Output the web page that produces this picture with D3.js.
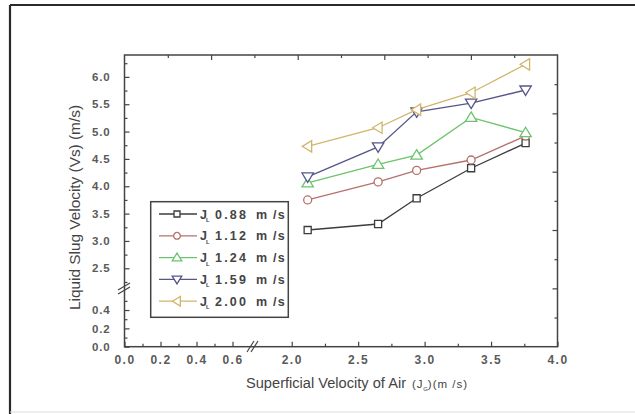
<!DOCTYPE html>
<html><head><meta charset="utf-8">
<script src="https://cdn.jsdelivr.net/npm/d3@7"></script>
<style>
html,body{margin:0;padding:0;background:#fff;}
svg{display:block;}
text{font-family:"Liberation Sans",Arial,sans-serif;}
</style></head>
<body>
<svg id="chart" width="635" height="414"></svg>
<script>
// ---- data ----
const jg = [2.12, 2.65, 2.94, 3.35, 3.76];
const jl088 = [3.20, 3.31, 3.78, 4.33, 4.79];
const jl112 = [3.75, 4.08, 4.29, 4.48, 4.92];
const jl124 = [4.06, 4.40, 4.57, 5.26, 4.98];
const jl159 = [4.17, 4.72, 5.36, 5.52, 5.76];
const jl200 = [4.73, 5.07, 5.40, 5.71, 6.23];
const seriesNames = ["0.88", "1.12", "1.24", "1.59", "2.00"];
const yTicksLow = [0.0, 0.2, 0.4];
const yTicksHigh = [2.5, 3.0, 3.5, 4.0, 4.5, 5.0, 5.5, 6.0];
const xTicksLow = [0.0, 0.2, 0.4, 0.6];
const xTicksHigh = [2.0, 2.5, 3.0, 3.5, 4.0];
const yMinorLow = [0.1, 0.3, 0.5];
const yMinorHigh = [2.25, 2.75, 3.25, 3.75, 4.25, 4.75, 5.25, 5.75, 6.25];
const xMinorLow = [0.1, 0.3, 0.5];
const xMinorHigh = [2.25, 2.75, 3.25, 3.75];

const series = [
  {name: seriesNames[0], values: jl088, color: "#3c3c3c", shape: "square"},
  {name: seriesNames[1], values: jl112, color: "#b5706c", shape: "circle"},
  {name: seriesNames[2], values: jl124, color: "#6cc46c", shape: "up"},
  {name: seriesNames[3], values: jl159, color: "#56568a", shape: "down"},
  {name: seriesNames[4], values: jl200, color: "#d2b56c", shape: "left"}
];

const svg = d3.select("#chart");
const L = 124.5, R = 557.5, T = 55, B = 346.7;

// outer frame
svg.append("line").attr("x1",10).attr("y1",5).attr("x2",640).attr("y2",5).attr("stroke","#2a2a2a").attr("stroke-width",2.2);
svg.append("line").attr("x1",10).attr("y1",5).attr("x2",10).attr("y2",414).attr("stroke","#2a2a2a").attr("stroke-width",2.2);
svg.append("line").attr("x1",10).attr("y1",412).attr("x2",640).attr("y2",412).attr("stroke","#ddd").attr("stroke-width",1);

// scales
const xLow = d3.scaleLinear().domain([0, 0.7]).range([L, 250.5]);
const xHigh = d3.scaleLinear().domain([1.75, 4.0]).range([258.5, R]);
const yLow = d3.scaleLinear().domain([0, 0.6]).range([B, 291.7]);
const yHigh = d3.scaleLinear().domain([2.2, 6.4]).range([284.7, T]);
const sec = d3.scaleLinear().domain([0, 10]);

const axisColor = "#444";
const labelColor = "#5a5a5a";

function styleAxis(g){
  g.select(".domain").remove();
  g.selectAll(".tick line").attr("stroke", axisColor).attr("stroke-width", 1.2);
  g.selectAll(".tick text").attr("fill", labelColor).attr("font-size", "12px")
    .attr("font-weight", "bold").attr("font-family", "'Liberation Sans', Arial, sans-serif");
}

// bottom axes
const gxl = svg.append("g").attr("transform", `translate(0,${B})`)
  .call(d3.axisBottom(xLow).tickValues(xTicksLow).tickSize(-5).tickPadding(9).tickFormat(d3.format(".1f")));
styleAxis(gxl);
const gxh = svg.append("g").attr("transform", `translate(0,${B})`)
  .call(d3.axisBottom(xHigh).tickValues(xTicksHigh).tickSize(-5).tickPadding(9).tickFormat(d3.format(".1f")));
styleAxis(gxh);
svg.append("g").attr("transform", `translate(0,${B})`)
  .call(d3.axisBottom(xLow).tickValues(xMinorLow).tickSize(-3).tickFormat("")).call(styleAxis);
svg.append("g").attr("transform", `translate(0,${B})`)
  .call(d3.axisBottom(xHigh).tickValues(xMinorHigh).tickSize(-3).tickFormat("")).call(styleAxis);
svg.selectAll("g .tick text").attr("letter-spacing", "1.5px");

// left axes
const gyl = svg.append("g").attr("transform", `translate(${L},0)`)
  .call(d3.axisLeft(yLow).tickValues(yTicksLow).tickSize(-5).tickPadding(14).tickFormat(d3.format(".1f")));
styleAxis(gyl);
const gyh = svg.append("g").attr("transform", `translate(${L},0)`)
  .call(d3.axisLeft(yHigh).tickValues(yTicksHigh).tickSize(-5).tickPadding(14).tickFormat(d3.format(".1f")));
styleAxis(gyh);
svg.append("g").attr("transform", `translate(${L},0)`)
  .call(d3.axisLeft(yLow).tickValues(yMinorLow).tickSize(-3).tickFormat("")).call(styleAxis);
svg.append("g").attr("transform", `translate(${L},0)`)
  .call(d3.axisLeft(yHigh).tickValues(yMinorHigh).tickSize(-3).tickFormat("")).call(styleAxis);
gyl.selectAll(".tick text").attr("letter-spacing", "0.8px").attr("font-size","11.5px");
gyh.selectAll(".tick text").attr("letter-spacing", "0.8px").attr("font-size","11.5px");

// top and right secondary axes (unlabelled)
const secX = sec.copy().range([L, R]);
const secY = sec.copy().range([B, T]);
const allTicks = d3.range(1, 10);
svg.append("g").attr("transform", `translate(0,${T})`)
  .call(d3.axisTop(secX).tickValues(allTicks.filter(d => d % 2 === 0)).tickSize(-5).tickFormat("")).call(styleAxis);
svg.append("g").attr("transform", `translate(0,${T})`)
  .call(d3.axisTop(secX).tickValues(allTicks.filter(d => d % 2 === 1)).tickSize(-3).tickFormat("")).call(styleAxis);
svg.append("g").attr("transform", `translate(${R},0)`)
  .call(d3.axisRight(secY).tickValues(allTicks.filter(d => d % 2 === 0)).tickSize(-5).tickFormat("")).call(styleAxis);
svg.append("g").attr("transform", `translate(${R},0)`)
  .call(d3.axisRight(secY).tickValues(allTicks.filter(d => d % 2 === 1)).tickSize(-3).tickFormat("")).call(styleAxis);

// plot frame
svg.append("rect").attr("x", L).attr("y", T).attr("width", R - L).attr("height", B - T)
  .attr("fill", "none").attr("stroke", axisColor).attr("stroke-width", 1.5);

// break marks
const brk = svg.append("g").attr("stroke", axisColor).attr("stroke-width", 1.2);
[0, 4].forEach(o => {
  brk.append("line").attr("x1", 247 + o).attr("y1", 352).attr("x2", 254 + o).attr("y2", 341);
  brk.append("line").attr("x1", 118).attr("y1", 294 - o).attr("x2", 130).attr("y2", 287 - o);
});

// marker path generator
function markerPath(shape, s) {
  switch (shape) {
    case "square": return `M${-s*0.62},${-s*0.62}h${s*1.24}v${s*1.24}h${-s*1.24}Z`;
    case "circle": { const r = s*0.7; return `M${-r},0a${r},${r} 0 1,0 ${2*r},0a${r},${r} 0 1,0 ${-2*r},0Z`; }
    case "up": return `M0,${-s*0.95}L${s},${s*0.7}L${-s},${s*0.7}Z`;
    case "down": return `M0,${s*0.95}L${s},${-s*0.7}L${-s},${-s*0.7}Z`;
    case "left": return `M${-s*0.95},0L${s*0.7},${-s}L${s*0.7},${s}Z`;
  }
}

const line = d3.line().x(d => xHigh(d[0])).y(d => yHigh(d[1]));
series.forEach(s => {
  const pts = jg.map((x, i) => [x, s.values[i]]);
  svg.append("path").datum(pts).attr("d", line).attr("fill", "none")
    .attr("stroke", s.color).attr("stroke-width", 1.3);
  svg.append("g").selectAll("path").data(pts).join("path")
    .attr("transform", d => `translate(${xHigh(d[0])},${yHigh(d[1])})`)
    .attr("d", markerPath(s.shape, 5.7)).attr("fill", "#fff")
    .attr("stroke", s.color).attr("stroke-width", 1.3);
});

// legend
const lg = svg.append("g");
lg.append("rect").attr("x", 150.7).attr("y", 201.7).attr("width", 137.6).attr("height", 115.6)
  .attr("fill", "#fff").attr("stroke", axisColor).attr("stroke-width", 1.5);
series.forEach((s, i) => {
  const y = 214 + i * 21.8;
  lg.append("line").attr("x1", 159).attr("x2", 197).attr("y1", y).attr("y2", y)
    .attr("stroke", s.color).attr("stroke-width", 1.3);
  lg.append("path").attr("transform", `translate(177,${y})`).attr("d", markerPath(s.shape, 4.8))
    .attr("fill", "#fff").attr("stroke", s.color).attr("stroke-width", 1.3);
  const t = lg.append("text").attr("y", y + 4.5).attr("fill", "#444")
    .attr("font-size", "12.5px").attr("font-weight", "bold");
  t.append("tspan").attr("x", 200).text("J");
  t.append("tspan").attr("x", 206).attr("font-size", "6px").attr("dy", 3.5).text("L");
  t.append("tspan").attr("dy", -3.5).attr("x", 215).attr("letter-spacing", "2.2px").text(s.name);
  t.append("tspan").attr("x", 256).attr("letter-spacing", "1.2px").text("m /s");
});

// axis titles
svg.append("text").attr("transform", "translate(80,207.5) rotate(-90)")
  .attr("text-anchor", "middle").attr("fill", "#444").attr("font-size", "14px")
  .attr("textLength", 205).attr("lengthAdjust", "spacingAndGlyphs")
  .text("Liquid Slug Velocity (Vs) (m/s)");

const xt = svg.append("text").attr("x", 246).attr("y", 388).attr("fill", "#444").attr("font-size", "14px");
xt.append("tspan").attr("textLength", 160).attr("lengthAdjust", "spacingAndGlyphs").text("Superficial Velocity of Air");
xt.append("tspan").attr("x", 412).attr("font-size", "11.5px").attr("letter-spacing", "0.8px").text("(J");
xt.append("tspan").attr("font-size", "6px").attr("dy", 3).text("G");
xt.append("tspan").attr("dy", -3).attr("font-size", "11.5px").attr("letter-spacing", "1px").text(")(m /s)");
</script>
</body></html>
